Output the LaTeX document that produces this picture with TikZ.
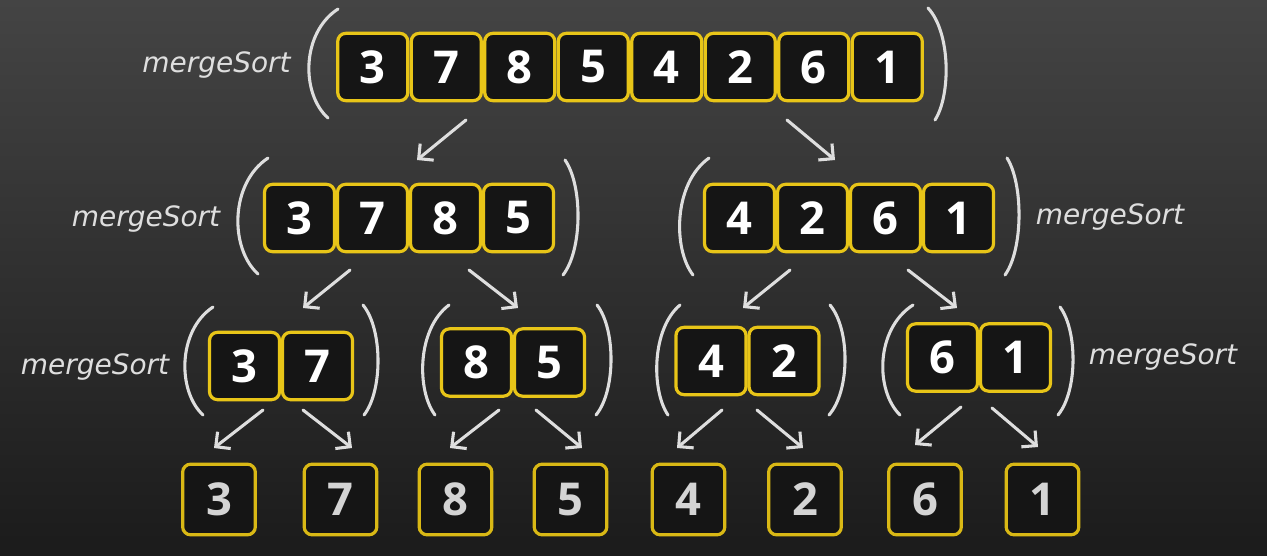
\documentclass[tikz,border=0pt]{standalone}
\usepackage{fontspec}
\setmainfont{Open Sans}
\newfontfamily\chalkfont{DejaVu Sans}
\usetikzlibrary{arrows.meta}
\definecolor{bgtop}{HTML}{444444}
\definecolor{bgbot}{HTML}{1B1B1B}
\definecolor{boxyellow}{HTML}{E8C518}
\definecolor{leafyellow}{HTML}{D9B815}
\definecolor{boxfill}{HTML}{151515}
\definecolor{chalk}{HTML}{DEDEDE}
\definecolor{leaftext}{HTML}{D4D4D4}
% arguments: x top, y top, x bottom, y bottom, x of the bulge
\newcommand\chalkparen[5]{\draw[chalkline] (#1,#2) .. controls ({(#5-0.125*(#1+#3))/0.75},{#2+0.22*(#4-#2)}) and ({(#5-0.125*(#1+#3))/0.75},{#4-0.22*(#4-#2)}) .. (#3,#4);}
\begin{document}
\begin{tikzpicture}[x=0.75pt,y=-0.75pt,
  cell/.style={draw=boxyellow, line width=2.4pt, fill=boxfill, rounded corners=6pt,
    minimum width=52.5pt, minimum height=50.5pt, inner sep=0pt, text=white,
    font=\fontsize{34}{34}\selectfont\bfseries},
  leaf/.style={cell, draw=leafyellow, minimum width=54.5pt, minimum height=53pt, text=leaftext},
  lbl/.style={text=chalk, inner sep=0pt, font=\chalkfont\itshape\fontsize{21}{21}\selectfont},
  chalkline/.style={draw=chalk, line width=2.3pt, line cap=round},
  chalkarrow/.style={chalkline, -{Straight Barb[length=8pt,width=16pt]}}
]
\shade[top color=bgtop, bottom color=bgbot] (0,0) rectangle (1267,556);
\useasboundingbox (0,0) rectangle (1267,556);

% row 1
\foreach \d [count=\i] in {3,7,8,5,4,2,6,1}
  \node[cell] (t\i) at ({372.75+73.5*(\i-1)},67) {\d};
% row 2
\foreach \d [count=\i] in {3,7,8,5}
  \node[cell] (l\i) at ({299.5+73*(\i-1)},218) {\d};
\foreach \d [count=\i] in {4,2,6,1}
  \node[cell] (r\i) at ({739.5+73*(\i-1)},218) {\d};
% row 3
\node[cell] (a1) at (244.5,366) {3};
\node[cell] (a2) at (317.5,366) {7};
\node[cell] (b1) at (476.5,362.5) {8};
\node[cell] (b2) at (549.5,362.5) {5};
\node[cell] (c1) at (711,361) {4};
\node[cell] (c2) at (784,361) {2};
\node[cell] (d1) at (942.5,357.5) {6};
\node[cell] (d2) at (1015.5,357.5) {1};
% row 4
\foreach \d/\x [count=\i] in {3/219,7/340.5,8/455.5,5/570.5,4/688.5,2/805,6/925,1/1042.5}
  \node[leaf] (e\i) at (\x,499.5) {\d};

% labels
\node[lbl] (m1) at (216.5,65) {mergeSort};
\node[lbl] (m2) at (146,219) {mergeSort};
\node[lbl] (m3) at (1110,217) {mergeSort};
\node[lbl] (m4) at (95,367) {mergeSort};
\node[lbl] (m5) at (1163,357) {mergeSort};

% parentheses
\chalkparen{338}{9}{328}{118}{309}
\chalkparen{928}{8}{935}{120}{946}
\chalkparen{268}{158}{258}{274}{238}
\chalkparen{565}{160}{563}{275}{578}
\chalkparen{709}{158}{693}{275}{680}
\chalkparen{1007}{158}{1005}{275}{1019}
\chalkparen{213}{307}{203}{415}{185}
\chalkparen{363}{305}{364}{415}{378}
\chalkparen{449}{305}{435}{415}{423}
\chalkparen{597}{305}{596}{415}{611}
\chalkparen{680}{305}{668}{415}{657}
\chalkparen{830}{305}{829}{415}{845}
\chalkparen{913}{305}{900}{415}{883}
\chalkparen{1060}{307}{1058}{415}{1073}

% arrows
\foreach \sx/\sy/\ex/\ey [count=\i] in {
  466/120/417/160, 787/120/835/160,
  350/270/303/308, 469/270/518/308, 790/270/743/308, 908/270/957/308,
  263/410/214/448, 303/410/352/448, 499/410/450/448, 536/410/582/448,
  722/410/677/448, 757/410/803/448, 961/407/915/445, 992/408/1038/447}
{
  \coordinate (as\i) at (\sx,\sy);
  \coordinate (ae\i) at (\ex,\ey);
  \draw[chalkarrow] (as\i) -- (ae\i);
}
\end{tikzpicture}
\end{document}
